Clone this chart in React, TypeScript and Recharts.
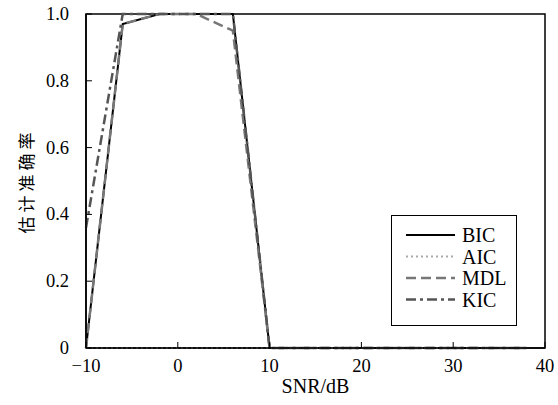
import { LineChart, Line, XAxis, YAxis, ReferenceArea } from "recharts";

const snr = [-10, -6, -2, 2, 6, 10, 14, 18, 22, 26, 30, 34, 38];
const bic = [0, 0.97, 1, 1, 1, 0, 0, 0, 0, 0, 0, 0, 0];
const aic = [0, 0, 0, 0, 0, 0, 0, 0, 0, 0, 0, 0, 0];
const mdl = [0, 0.97, 1, 1, 0.95, 0, 0, 0, 0, 0, 0, 0, 0];
const kic = [0.36, 1, 1, 1, 1, 0, 0, 0, 0, 0, 0, 0, 0];

const xTicks = [-10, 0, 10, 20, 30, 40];
const yTicks = [0, 0.2, 0.4, 0.6, 0.8, 1.0];

const serif = "'Liberation Serif', 'Times New Roman', serif";

const series = [
  { key: "BIC", color: "#000000", width: 2, dash: undefined },
  { key: "AIC", color: "#aaaaaa", width: 2, dash: "2 3" },
  { key: "MDL", color: "#777777", width: 2.5, dash: "10 5" },
  { key: "KIC", color: "#555555", width: 2.5, dash: "10 4 3 4" },
];

const data = snr.map((s, i) => ({
  snr: s,
  BIC: bic[i],
  AIC: aic[i],
  MDL: mdl[i],
  KIC: kic[i],
}));

const XTick = ({ x, y, payload }: any) => (
  <g>
    <line x1={x} x2={x} y1={y} y2={y - 6} stroke="#000" strokeWidth={1} />
    <text x={x} y={y + 24} textAnchor="middle" style={{ fontFamily: serif, fontSize: 18.5 }} fill="#000">
      {payload.value < 0 ? "\u2212" + Math.abs(payload.value) : payload.value}
    </text>
  </g>
);

const YTick = ({ x, y, payload }: any) => (
  <g>
    <line x1={x} x2={x + 6} y1={y} y2={y} stroke="#000" strokeWidth={1} />
    <text x={x - 17} y={y + 6} textAnchor="end" style={{ fontFamily: serif, fontSize: 18.5 }} fill="#000">
      {payload.value === 0 ? "0" : payload.value.toFixed(1)}
    </text>
  </g>
);

const LegendBox = () => (
  <svg width={126} height={111} style={{ position: "absolute", left: 391, top: 215 }}>
    <rect x={0.5} y={0.5} width={125} height={110} fill="#fff" stroke="#000" strokeWidth={1} />
    {series.map((s, i) => (
      <g key={s.key}>
        <line
          x1={15}
          x2={64}
          y1={20 + i * 21.5}
          y2={20 + i * 21.5}
          stroke={s.color}
          strokeWidth={s.width}
          strokeDasharray={s.dash}
        />
        <text x={71} y={27 + i * 21.5} style={{ fontFamily: serif, fontSize: 20 }} fill="#000">
          {s.key}
        </text>
      </g>
    ))}
  </svg>
);

export default function App() {
  return (
    <div style={{ position: "absolute", left: 0, top: 0, width: 558, height: 405 }}>
      <LineChart width={558} height={405} data={data} margin={{ top: 14, right: 13, left: 0, bottom: 0 }}>
        <XAxis
          dataKey="snr"
          type="number"
          domain={[-10, 40]}
          ticks={xTicks}
          height={57}
          tickSize={0}
          tickMargin={0}
          tick={<XTick />}
          axisLine={{ stroke: "#000", strokeWidth: 1.5 }}
          tickLine={false}
          label={{
            content: ({ viewBox }: any) => (
              <text
                x={viewBox.x + viewBox.width / 2}
                y={viewBox.y + 45}
                textAnchor="middle"
                style={{ fontFamily: serif, fontSize: 20 }}
                fill="#000"
              >
                SNR/dB
              </text>
            ),
          }}
        />
        <YAxis
          type="number"
          domain={[0, 1]}
          ticks={yTicks}
          width={86}
          tickSize={0}
          tickMargin={0}
          tick={<YTick />}
          axisLine={{ stroke: "#000", strokeWidth: 1.5 }}
          tickLine={false}
          label={{
            content: ({ viewBox }: any) => {
              const cy = viewBox.y + viewBox.height / 2;
              return (
                <text
                  x={25}
                  y={cy}
                  transform={`rotate(-90 25 ${cy})`}
                  textAnchor="middle"
                  dominantBaseline="central"
                  style={{ fontFamily: "'Noto Sans CJK SC', sans-serif", fontSize: 17, letterSpacing: 4 }}
                  fill="#000"
                >
                  估计准确率
                </text>
              );
            },
          }}
        />
        <ReferenceArea x1={-10} x2={40} y1={0} y2={1} fill="none" stroke="#000" strokeWidth={1.5} />
        {series.map((s) => (
          <Line
            key={s.key}
            dataKey={s.key}
            type="linear"
            stroke={s.color}
            strokeWidth={s.width}
            strokeDasharray={s.dash}
            dot={false}
            activeDot={false}
            isAnimationActive={false}
          />
        ))}
      </LineChart>
      <LegendBox />
    </div>
  );
}
